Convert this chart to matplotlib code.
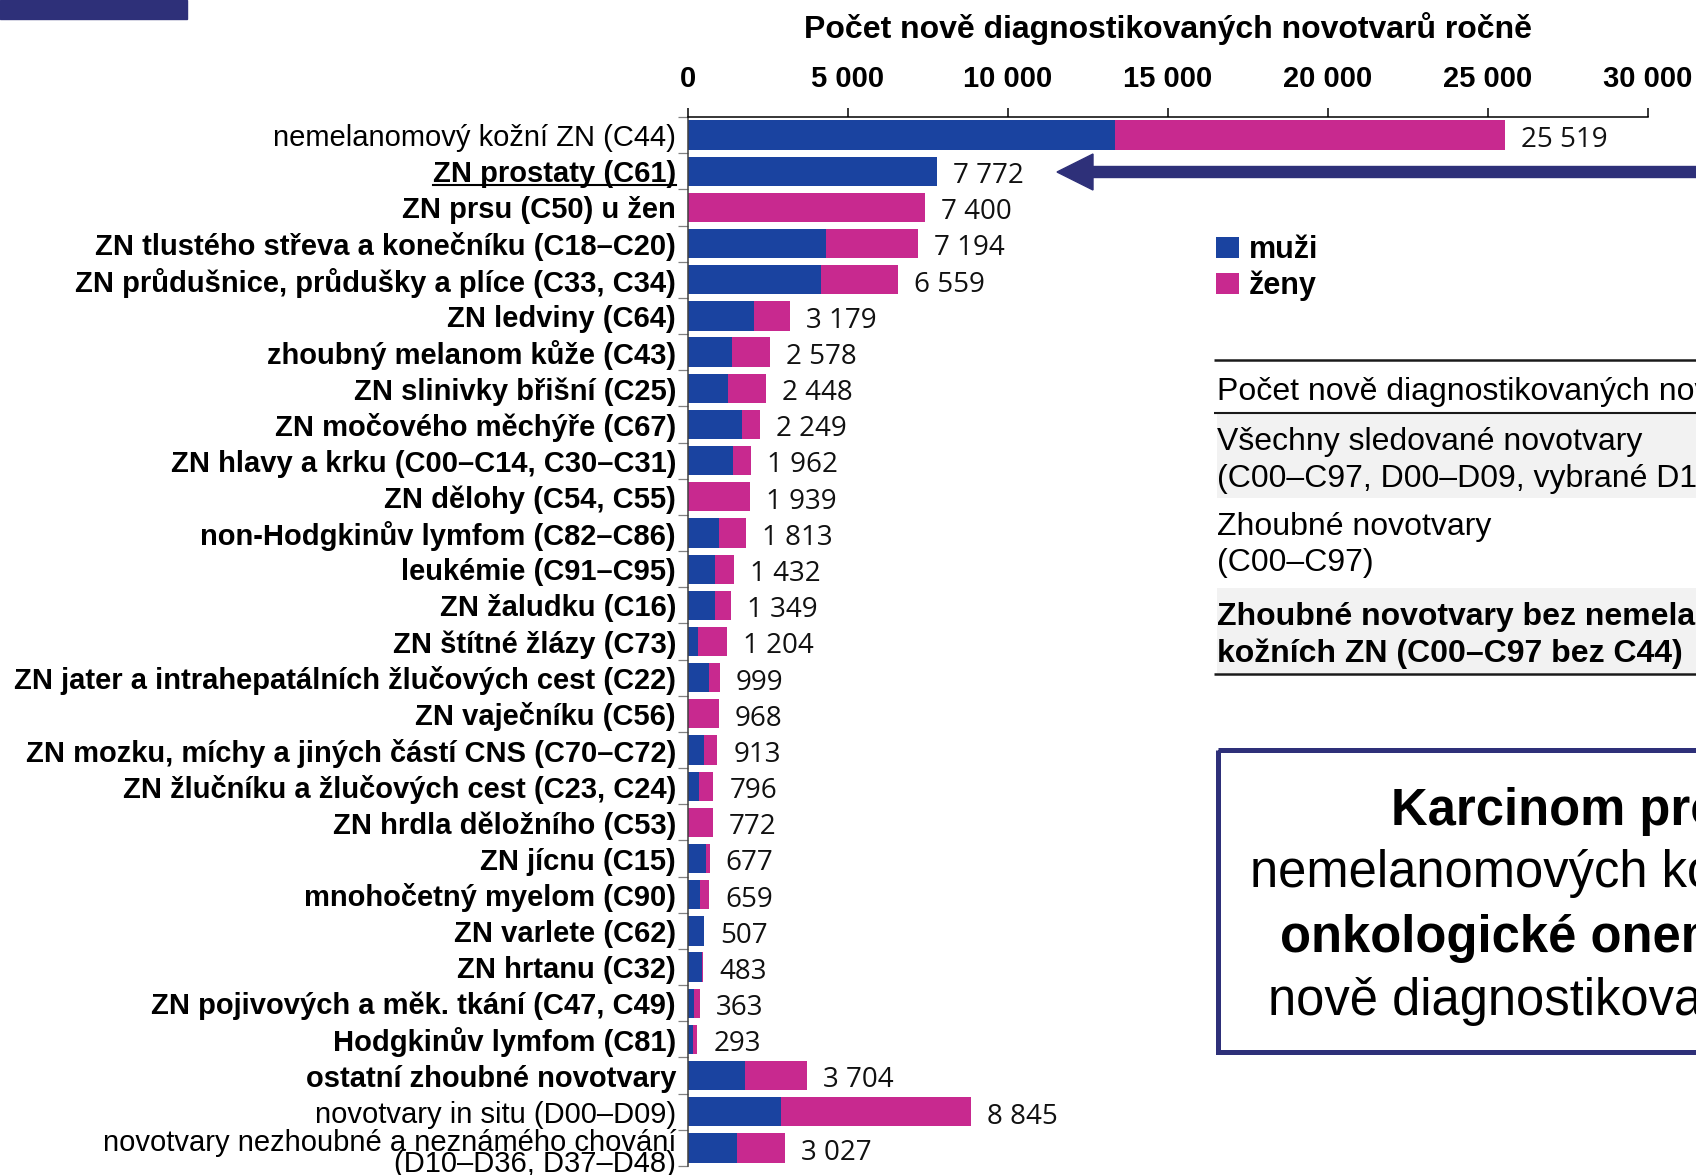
import numpy as np
import matplotlib
matplotlib.use("Agg")
import matplotlib.pyplot as plt
from matplotlib.patches import Rectangle, Polygon
from matplotlib.lines import Line2D
from matplotlib.font_manager import FontProperties

# --- data: new cases per year, split by sex ---------------------------------
categories = [
    "nemelanomový kožní ZN (C44)",
    "ZN prostaty (C61)",
    "ZN prsu (C50) u žen",
    "ZN tlustého střeva a konečníku (C18–C20)",
    "ZN průdušnice, průdušky a plíce (C33, C34)",
    "ZN ledviny (C64)",
    "zhoubný melanom kůže (C43)",
    "ZN slinivky břišní (C25)",
    "ZN močového měchýře (C67)",
    "ZN hlavy a krku (C00–C14, C30–C31)",
    "ZN dělohy (C54, C55)",
    "non-Hodgkinův lymfom (C82–C86)",
    "leukémie (C91–C95)",
    "ZN žaludku (C16)",
    "ZN štítné žlázy (C73)",
    "ZN jater a intrahepatálních žlučových cest (C22)",
    "ZN vaječníku (C56)",
    "ZN mozku, míchy a jiných částí CNS (C70–C72)",
    "ZN žlučníku a žlučových cest (C23, C24)",
    "ZN hrdla děložního (C53)",
    "ZN jícnu (C15)",
    "mnohočetný myelom (C90)",
    "ZN varlete (C62)",
    "ZN hrtanu (C32)",
    "ZN pojivových a měk. tkání (C47, C49)",
    "Hodgkinův lymfom (C81)",
    "ostatní zhoubné novotvary",
    "novotvary in situ (D00–D09)",
    "novotvary nezhoubné a neznámého chování\n(D10–D36, D37–D48)",
]
bold_label = [False] + [True] * 26 + [False, False]

men = np.array([13355, 7772, 0, 4300, 4165, 2060, 1370, 1260, 1690, 1400,
                0, 970, 830, 840, 310, 670, 0, 510, 340, 0,
                560, 360, 507, 430, 200, 150, 1780, 2910, 1545])
women = np.array([12164, 0, 7400, 2894, 2394, 1119, 1208, 1188, 559, 562,
                  1939, 843, 602, 509, 894, 329, 968, 403, 456, 772,
                  117, 299, 0, 53, 163, 143, 1924, 5935, 1482])

x_ticks = [0, 5000, 10000, 15000, 20000, 25000, 30000]

BLUE = "#1A43A0"
PINK = "#C8298F"
NAVY = "#2E3079"
SANS = ["Liberation Sans", "DejaVu Sans"]
NUM = ["Open Sans", "DejaVu Sans"]


def fmt(v):
    return f"{v:,}".replace(",", " ")


W, H = 1696, 1175
fig = plt.figure(figsize=(W / 100, H / 100), dpi=100)

# --- bar chart ---------------------------------------------------------------
ax = fig.add_axes([688 / W, 9 / H, 960 / W, 1049 / H])
y = np.arange(len(categories))
totals = men + women
ax.barh(y, men, height=0.81, color=BLUE, label="muži")
ax.barh(y, women, left=men, height=0.81, color=PINK, label="ženy")
ax.set_xlim(0, 30000)
ax.set_ylim(len(categories) - 0.5, -0.5)

for yi, t in zip(y, totals):
    ax.annotate(fmt(t), (t, yi), xytext=(11.5, -3.5), textcoords="offset points",
                va="center", ha="left", fontsize=20, family=NUM, color="#111111")

ax.xaxis.tick_top()
ax.set_xticks(x_ticks)
ax.set_xticklabels([fmt(v) for v in x_ticks], family=SANS, fontweight="bold", fontsize=21)
ax.tick_params(axis="x", length=6.5, width=1.1, pad=11)

# the two-line last label is placed by hand so it sits a little lower
ax.set_yticks(y)
ax.set_yticklabels(categories[:-1] + [""], family=SANS, fontsize=21)
for lab, b in zip(ax.get_yticklabels(), bold_label):
    lab.set_fontweight("bold" if b else "normal")
ax.annotate(categories[-1], (0, y[-1]), xycoords=("axes fraction", "data"),
            xytext=(-8.6, -4), textcoords="offset points", ha="right", va="center",
            family=SANS, fontsize=21, linespacing=0.72, annotation_clip=False)
ax.tick_params(axis="y", which="major", length=0, pad=8.6)
ax.set_yticks(np.arange(-0.5, len(categories), 1), minor=True)
ax.tick_params(axis="y", which="minor", length=7.2, width=0.9, color="#808080")

for side in ("right", "bottom"):
    ax.spines[side].set_visible(False)
ax.spines["top"].set_linewidth(1.1)
ax.spines["left"].set_linewidth(1.1)
ax.spines["left"].set_color("#404040")

ax.legend(loc="upper left", bbox_to_anchor=(1216 / W, 1 - 235 / H),
          bbox_transform=fig.transFigure, frameon=False,
          prop=FontProperties(family=SANS, weight="bold", size=22),
          handlelength=0.75, handleheight=0.7, handletextpad=0.33,
          labelspacing=0.19, borderpad=0, borderaxespad=0)

# --- slide decorations in pixel coordinates ----------------------------------
ov = fig.add_axes([0, 0, 1, 1])
ov.set_xlim(0, W)
ov.set_ylim(H, 0)
ov.set_axis_off()

ov.add_patch(Rectangle((0, 0), 187, 19, color=NAVY))
ov.text(1168, 38, "Počet nově diagnostikovaných novotvarů ročně", ha="center",
        va="baseline", fontsize=23, fontweight="bold", family=SANS)

# arrow pointing at the prostate bar
ov.add_patch(Polygon([(1057, 172), (1093, 154), (1093, 166.5), (1710, 166.5),
                      (1710, 177.5), (1093, 177.5), (1093, 190)],
                     closed=True, color=NAVY))

# summary table
ov.add_patch(Rectangle((1217, 414), 500, 84, color="#F2F2F2", lw=0))
ov.add_patch(Rectangle((1217, 588), 500, 85, color="#F2F2F2", lw=0))
for yl, lw in ((360, 1.8), (413, 1.5), (674, 1.8)):
    ov.plot([1214, 1710], [yl, yl], color="#1a1a1a", lw=lw, solid_capstyle="butt")
table_rows = [
    (400, "Počet nově diagnostikovaných novotvarů", "normal"),
    (450, "Všechny sledované novotvary", "normal"),
    (487, "(C00–C97, D00–D09, vybrané D10–D48)", "normal"),
    (535, "Zhoubné novotvary", "normal"),
    (571, "(C00–C97)", "normal"),
    (625, "Zhoubné novotvary bez nemelanomových", "bold"),
    (662, "kožních ZN (C00–C97 bez C44)", "bold"),
]
for yb, txt, w in table_rows:
    ov.text(1217, yb, txt, ha="left", va="baseline", fontsize=23,
            fontweight=w, family=SANS)

# highlighted statement box
ov.add_patch(Rectangle((1217.5, 749.5), 600, 302, fill=False, ec=NAVY, lw=3.6))
box_lines = [
    (1391, 825, "Karcinom prostaty", "bold"),
    (1250, 887, "nemelanomových kožních nádorů", "normal"),
    (1280, 952, "onkologické onemocnění", "bold"),
    (1268, 1015, "nově diagnostikované u mužů", "normal"),
]
for xl, yb, txt, w in box_lines:
    ov.text(xl, yb, txt, ha="left", va="baseline", fontsize=36.5,
            fontweight=w, family=SANS)

# underline the highlighted category
fig.canvas.draw()
bb = ax.get_yticklabels()[1].get_window_extent(fig.canvas.get_renderer())
uy = (bb.y0 + 0.1 * bb.height) / H
fig.add_artist(Line2D([bb.x0 / W, bb.x1 / W], [uy, uy], transform=fig.transFigure,
                      color="black", lw=1.5))

fig.savefig("out.png", dpi=100)
